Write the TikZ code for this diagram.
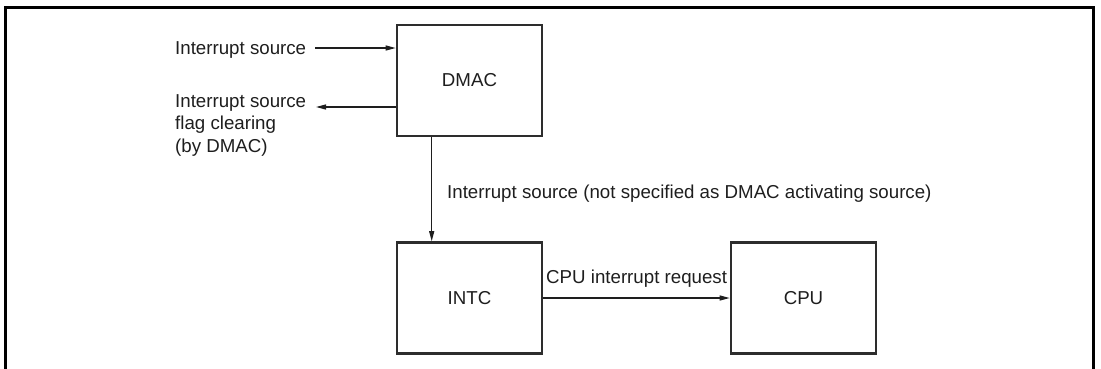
\documentclass[tikz,border=0pt]{standalone}
\usepackage{fontspec}
\setmainfont{Liberation Sans}
\usetikzlibrary{arrows.meta,calc}
\definecolor{boxc}{RGB}{45,45,45}
\definecolor{txtc}{RGB}{30,30,30}
\begin{document}
\begin{tikzpicture}[x=1pt,y=-1pt,
  every node/.style={font=\fontsize{18.7}{22.5}\selectfont, text=txtc},
  blockbox/.style={draw=boxc, line width=2.6pt, minimum width=145pt, minimum height=111pt, inner sep=0pt},
  lbl/.style={inner sep=0pt},
  conn/.style={draw=txtc, line width=1.2pt, -{Triangle[length=10pt,width=5pt]}}]
\useasboundingbox (0,0) rectangle (1101,368);
% outer frame
\draw[line width=3pt, black] (5,370) -- (5,7) -- (1093,7) -- (1093,370);
% blocks
\node[blockbox] (dmac) at (469.5,80.5) {DMAC};
\node[blockbox] (intc) at (469.5,298) {INTC};
\node[blockbox] (cpu)  at (803.5,298) {CPU};
% labels
\node[lbl, anchor=base west] (src1) at (175,54) {Interrupt source};
\node[lbl, anchor=base west, align=left] (clrtxt) at (175,152) {Interrupt source\\flag clearing\\(by DMAC)};
\node[lbl, anchor=base west] (notspec) at (447,198) {Interrupt source (not specified as DMAC activating source)};
\node[lbl, anchor=base west] (cpureq) at (546,283) {CPU interrupt request};
% connectors
\coordinate (s1) at (315,48);
\coordinate (c1) at (316,107);
\draw[conn] (s1) -- (s1 -| dmac.west);
\draw[conn] (c1 -| dmac.west) -- (c1);
\draw[conn] ($(dmac.south west)+(36,0)$) -- ($(intc.north west)+(36,0)$);
\draw[conn] (intc.east) -- (cpu.west);
\end{tikzpicture}
\end{document}
